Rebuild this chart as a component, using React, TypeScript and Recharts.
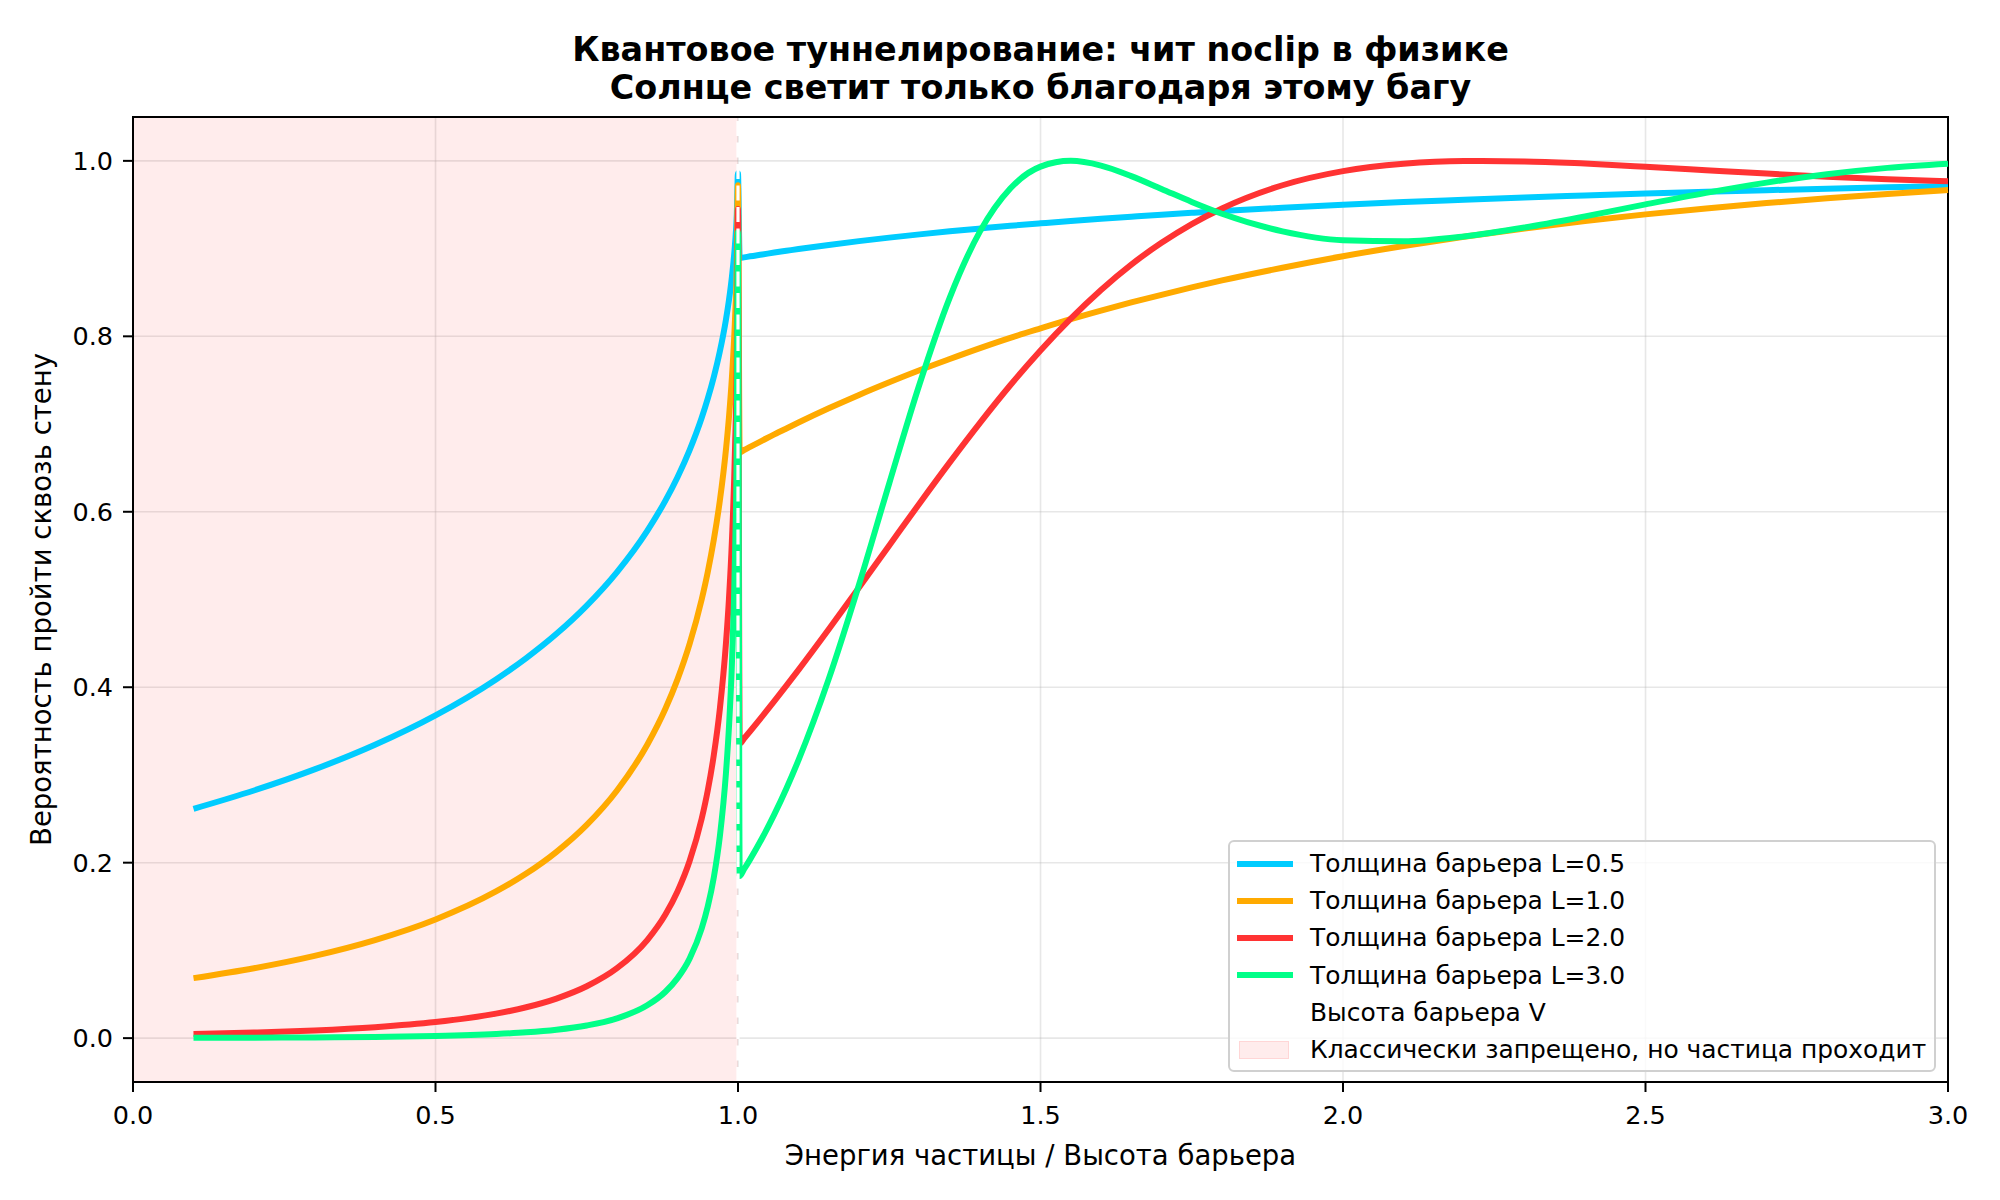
import { LineChart, Line, XAxis, YAxis, CartesianGrid, ReferenceArea, ReferenceLine, Legend } from "recharts";

const FONT = '"DejaVu Sans", sans-serif';

// particle energy E / V
const energy = [
  0.1, 0.2, 0.3, 0.4, 0.5, 0.6, 0.65, 0.7, 0.75, 0.8, 0.85, 0.88, 0.9, 0.92, 0.94, 0.95, 0.96, 0.97, 0.98, 0.985,
  0.99, 0.995, 0.998, 0.9999,
  1.0028, 1.01, 1.02, 1.04, 1.06, 1.08, 1.1, 1.15, 1.2, 1.25, 1.3, 1.35, 1.4, 1.45, 1.5, 1.55, 1.6, 1.65, 1.7,
  1.75, 1.8, 1.9, 2.0, 2.1, 2.2, 2.3, 2.4, 2.5, 2.6, 2.7, 2.8, 2.9, 3.0,
];

// transmission probability per barrier width
const widthHalf = [
  0.2614, 0.2823, 0.3063, 0.3344, 0.3679, 0.4089, 0.4332, 0.4609, 0.4931, 0.5313, 0.5783, 0.6127, 0.6394, 0.6703,
  0.7072, 0.7289, 0.7537, 0.7828, 0.8187, 0.841, 0.8681, 0.9048, 0.9387, 0.986,
  0.8892, 0.89, 0.8912, 0.8933, 0.8955, 0.8975, 0.8995, 0.9042, 0.9085, 0.9125, 0.9162, 0.9197, 0.9229, 0.926,
  0.9288, 0.9315, 0.934, 0.9364, 0.9387, 0.9408, 0.9428, 0.9465, 0.9499, 0.953, 0.9557, 0.9583, 0.9606, 0.9628,
  0.9647, 0.9666, 0.9683, 0.9699, 0.9713,
];
const widthOne = [
  0.0684, 0.0797, 0.0938, 0.1118, 0.1353, 0.1672, 0.1876, 0.2124, 0.2431, 0.2823, 0.3344, 0.3754, 0.4089, 0.4493,
  0.5002, 0.5313, 0.568, 0.6127, 0.6703, 0.7072, 0.7537, 0.8187, 0.8812, 0.9721,
  0.6677, 0.6704, 0.674, 0.6811, 0.6882, 0.695, 0.7017, 0.7179, 0.7332, 0.7476, 0.7613, 0.7741, 0.7865, 0.7982,
  0.809, 0.8195, 0.8293, 0.8386, 0.8473, 0.8557, 0.8637, 0.8782, 0.8913, 0.903, 0.9135, 0.923, 0.9314, 0.939,
  0.9458, 0.9519, 0.9574, 0.9623, 0.9667,
];
const widthTwo = [
  0.0047, 0.0064, 0.0088, 0.0125, 0.0183, 0.0279, 0.0352, 0.0451, 0.0591, 0.0797, 0.1118, 0.1409, 0.1672, 0.2019,
  0.2502, 0.2823, 0.3226, 0.3754, 0.4493, 0.5002, 0.568, 0.6703, 0.7765, 0.945,
  0.3356, 0.3415, 0.3498, 0.3667, 0.3841, 0.4018, 0.4198, 0.4661, 0.5136, 0.5616, 0.6095, 0.6563, 0.7014, 0.7442,
  0.7839, 0.8202, 0.8529, 0.8818, 0.9066, 0.928, 0.9458, 0.9722, 0.9883, 0.9967, 0.9998, 0.9994, 0.9969, 0.9933,
  0.9894, 0.9855, 0.982, 0.979, 0.9767,
];
const widthThree = [
  0.0003, 0.0005, 0.0008, 0.0014, 0.0025, 0.0047, 0.0066, 0.0096, 0.0144, 0.0225, 0.0374, 0.0529, 0.0684, 0.0907,
  0.1251, 0.15, 0.1832, 0.23, 0.3012, 0.3537, 0.428, 0.5488, 0.6842, 0.9187,
  0.1848, 0.1925, 0.2038, 0.2281, 0.255, 0.2846, 0.3169, 0.4095, 0.517, 0.6325, 0.7454, 0.8442, 0.9196, 0.9685,
  0.9934, 1.0, 0.9946, 0.9826, 0.968, 0.9532, 0.9397, 0.9197, 0.9096, 0.9083, 0.9138, 0.924, 0.9367, 0.9504,
  0.9635, 0.9752, 0.9848, 0.992, 0.9968,
];

const xTicks = [0, 0.5, 1, 1.5, 2, 2.5, 3];
const yTicks = [0, 0.2, 0.4, 0.6, 0.8, 1.0];

const series = [
  { key: "l05", name: "Толщина барьера L=0.5", color: "#00CCFF" },
  { key: "l10", name: "Толщина барьера L=1.0", color: "#FFAA00" },
  { key: "l20", name: "Толщина барьера L=2.0", color: "#FF3333" },
  { key: "l30", name: "Толщина барьера L=3.0", color: "#00FF88" },
];

const data = energy.map((e, i) => ({
  e,
  l05: widthHalf[i],
  l10: widthOne[i],
  l20: widthTwo[i],
  l30: widthThree[i],
}));

const fmt = (v: number) => v.toFixed(1);

function LegendBox() {
  const row = { display: "flex", alignItems: "center", height: 37.2 } as const;
  return (
    <div
      style={{
        width: 708,
        height: 232,
        boxSizing: "border-box",
        border: "2px solid #d0d0d0",
        borderRadius: 6,
        background: "rgba(255,255,255,0.8)",
        padding: "3px 0 0 7px",
        fontFamily: FONT,
        fontSize: 24.9,
        color: "#000",
      }}
    >
      {series.map((s) => (
        <div key={s.key} style={row}>
          <span style={{ display: "inline-block", width: 56, height: 6, background: s.color }} />
          <span style={{ marginLeft: 17 }}>{s.name}</span>
        </div>
      ))}
      <div style={row}>
        <span style={{ display: "inline-block", width: 56, height: 3, background: "#fff" }} />
        <span style={{ marginLeft: 17 }}>Высота барьера V</span>
      </div>
      <div style={row}>
        <span
          style={{
            display: "inline-block",
            width: 50,
            height: 18,
            marginLeft: 2,
            marginRight: 4,
            boxSizing: "border-box",
            background: "rgba(255,0,0,0.075)",
            border: "1.5px solid rgba(255,0,0,0.09)",
          }}
        />
        <span style={{ marginLeft: 17 }}>Классически запрещено, но частица проходит</span>
      </div>
    </div>
  );
}

export default function App() {
  return (
    <div style={{ position: "absolute", left: 0, top: 0, width: 2000, height: 1200, background: "#fff" }}>
      <div
        style={{
          position: "absolute",
          left: 133,
          top: 31,
          width: 1815,
          textAlign: "center",
          fontFamily: FONT,
          fontWeight: "bold",
          fontSize: 33.4,
          lineHeight: "38px",
          color: "#000",
        }}
      >
        <div>Квантовое туннелирование: чит noclip в физике</div>
        <div>Солнце светит только благодаря этому багу</div>
      </div>
      <LineChart width={2000} height={1200} data={data} margin={{ top: 117, right: 52, left: 0, bottom: 0 }}>
        <CartesianGrid stroke="#b0b0b0" strokeOpacity={0.3} strokeWidth={1.6} />
        <ReferenceArea x1={0} x2={1} fill="#ff0000" fillOpacity={0.075} stroke="none" />
        <XAxis
          dataKey="e"
          type="number"
          domain={[0, 3]}
          ticks={xTicks}
          tickFormatter={fmt}
          height={118}
          tickSize={10}
          tickMargin={14}
          tick={{ fill: "#000", fontSize: 25.5, fontFamily: FONT }}
          tickLine={{ stroke: "#000", strokeWidth: 2 }}
          axisLine={{ stroke: "#000", strokeWidth: 2 }}
          label={{
            value: "Энергия частицы / Высота барьера",
            position: "insideBottom",
            offset: 35,
            style: { fontSize: 27.5, fill: "#000", fontFamily: FONT },
          }}
        />
        <YAxis
          type="number"
          domain={[-0.05, 1.05]}
          ticks={yTicks}
          tickFormatter={fmt}
          width={133}
          tickSize={10}
          tickMargin={10}
          allowDataOverflow
          tick={{ fill: "#000", fontSize: 25.5, fontFamily: FONT }}
          tickLine={{ stroke: "#000", strokeWidth: 2 }}
          axisLine={{ stroke: "#000", strokeWidth: 2 }}
          label={{
            value: "Вероятность пройти сквозь стену",
            angle: -90,
            position: "insideLeft",
            offset: 41,
            style: { textAnchor: "middle", fontSize: 27.5, fill: "#000", fontFamily: FONT },
          }}
        />
        {series.map((s) => (
          <Line
            key={s.key}
            dataKey={s.key}
            name={s.name}
            type="monotone"
            stroke={s.color}
            strokeWidth={6}
            dot={false}
            activeDot={false}
            isAnimationActive={false}
          />
        ))}
        <ReferenceLine x={1} stroke="#ffffff" strokeWidth={3.2} strokeDasharray="15 6.5" />
        <ReferenceArea x1={0} x2={3} y1={-0.05} y2={1.05} fill="none" stroke="#000" strokeWidth={2} />
        <Legend
          content={<LegendBox />}
          layout="vertical"
          align="center"
          verticalAlign="middle"
          wrapperStyle={{ left: 1228, top: 840, width: 708, height: 232 }}
        />
      </LineChart>
    </div>
  );
}
